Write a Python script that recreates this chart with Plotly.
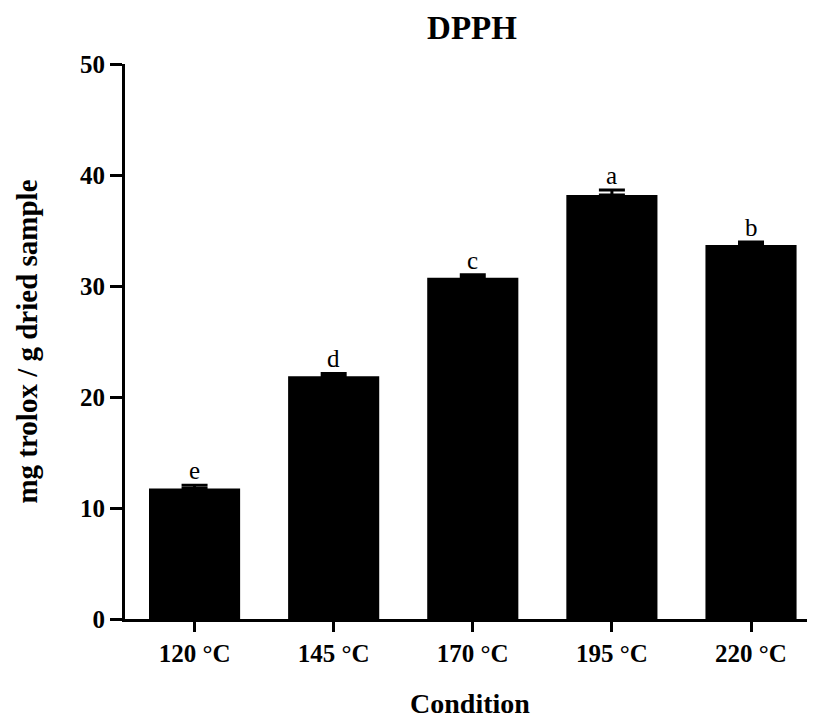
import plotly.graph_objects as go

categories = ["120 °C", "145 °C", "170 °C", "195 °C", "220 °C"]
values = [11.76, 21.87, 30.75, 38.19, 33.69]
errors = [0.30, 0.25, 0.27, 0.45, 0.27]
letters = ["e", "d", "c", "a", "b"]
y_ticks = [0, 10, 20, 30, 40, 50]

SERIF = "Liberation Serif, Times New Roman, serif"

fig = go.Figure()
fig.add_trace(go.Bar(
    x=categories,
    y=values,
    width=0.655,
    marker=dict(color="black", line=dict(width=0)),
    error_y=dict(type="data", array=errors, arrayminus=[0] * len(errors),
                 symmetric=False, color="black", thickness=3, width=13),
    showlegend=False,
))

for c, v, e, l in zip(categories, values, errors, letters):
    fig.add_annotation(x=c, y=v + e, text=l, showarrow=False,
                       yanchor="bottom", yshift=-1,
                       font=dict(family=SERIF, size=25, color="black"))

W, H = 807, 712
fig.update_layout(
    width=W, height=H,
    margin=dict(l=117, r=0, t=56, b=101),
    paper_bgcolor="white", plot_bgcolor="white",
    title=dict(text="<b>DPPH</b>", x=464 / W, xanchor="center",
               y=1 - 19 / H, yanchor="middle", yref="container",
               font=dict(family=SERIF, size=33, color="black")),
)
fig.update_xaxes(
    type="category", range=[-0.5, 4.46],
    showline=True, linecolor="black", linewidth=3,
    ticks="outside", ticklen=10, tickwidth=2.5, tickcolor="black",
    tickfont=dict(family=SERIF, size=25, color="black"),
    tickprefix="<b>", ticksuffix="</b>",
    title=dict(text="<b>Condition</b>", standoff=28,
               font=dict(family=SERIF, size=28, color="black")),
    showgrid=False, zeroline=False,
)
fig.update_yaxes(
    range=[0, 50], tickvals=y_ticks, ticktext=[f"<b>{t}</b>" for t in y_ticks],
    showline=True, linecolor="black", linewidth=3,
    ticks="outside", ticklen=12, tickwidth=3, tickcolor="black",
    tickfont=dict(family=SERIF, size=25, color="black"),
    title=dict(text="<b>mg trolox / g dried sample</b>", standoff=34,
               font=dict(family=SERIF, size=29, color="black")),
    showgrid=False, zeroline=False,
)

fig.write_html("out.html")
